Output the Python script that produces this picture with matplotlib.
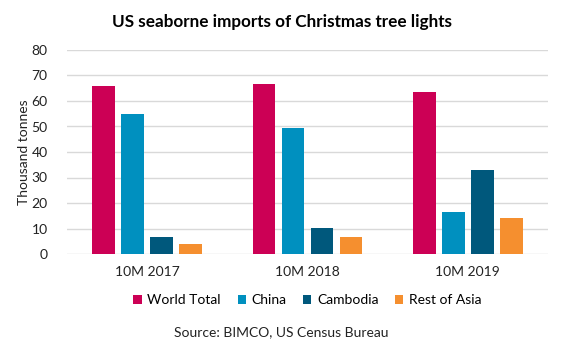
import numpy as np
import matplotlib.pyplot as plt

plt.rcParams['font.family'] = ['Lato', 'DejaVu Sans']

# Data (thousand tonnes)
periods = ['10M 2017', '10M 2018', '10M 2019']
world_total = [65.9, 66.7, 63.5]
china = [54.9, 49.4, 16.5]
cambodia = [6.7, 10.2, 32.9]
rest_of_asia = [4.0, 6.7, 14.1]

series = [('World Total', world_total, '#CC0055'),
          ('China', china, '#0090BF'),
          ('Cambodia', cambodia, '#00587C'),
          ('Rest of Asia', rest_of_asia, '#F58F2F')]

fig = plt.figure(figsize=(5.63, 3.54), dpi=100)
ax = fig.add_axes([67/563, 1 - 254/354, 481/563, 204/354])

x = np.arange(len(periods))
slot = 0.181
width = 0.143
for i, (name, vals, col) in enumerate(series):
    ax.bar(x + (i - 1.5) * slot, vals, width, color=col, label=name, zorder=3)

ax.set_xlim(-0.5, 2.5)
ax.set_ylim(0, 80)
ax.set_yticks(np.arange(0, 81, 10))
ax.set_xticks(x)
ax.set_xticklabels(periods)
ax.grid(axis='y', color='#D9D9D9', linewidth=1, zorder=0)
for s in ax.spines.values():
    s.set_visible(False)
ax.tick_params(length=0, labelsize=10, colors='#222222')
ax.tick_params(axis='x', pad=9)
ax.tick_params(axis='y', pad=14)
ax.set_ylabel('Thousand tonnes', fontsize=10, color='#222222', labelpad=1)

fig.text(0.5, 1 - 22/354, 'US seaborne imports of Christmas tree lights',
         ha='center', va='center', fontsize=12.3, fontweight='bold')
ax.legend(loc='center', bbox_to_anchor=(0.5, (254 - 300) / 204), ncol=4,
          frameon=False, fontsize=10, handlelength=0.6, handleheight=0.6,
          handletextpad=0.4, columnspacing=1.2)
fig.text(0.5, 1 - 332/354, 'Source: BIMCO, US Census Bureau',
         ha='center', va='center', fontsize=10, color='#222222')

fig.savefig('out.png', dpi=100)
